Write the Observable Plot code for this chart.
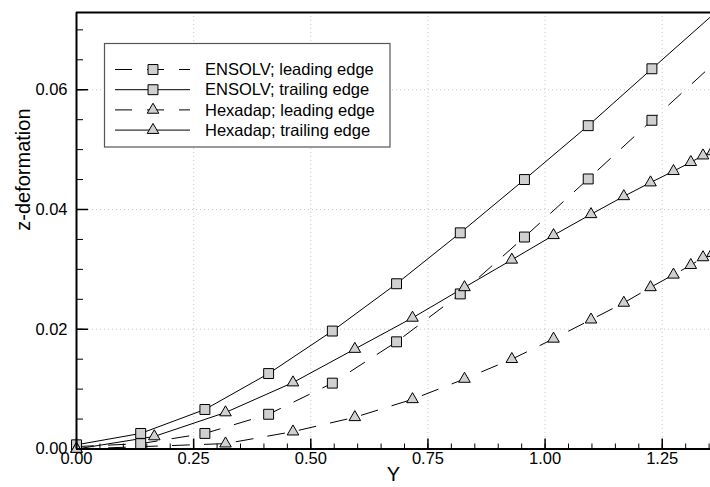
<!DOCTYPE html>
<html>
<head>
<meta charset="utf-8">
<script src="https://cdn.jsdelivr.net/npm/d3@7"></script>
<script src="https://cdn.jsdelivr.net/npm/@observablehq/plot@0.6"></script>
<style>
  html, body { margin: 0; padding: 0; background: white; }
  #chart { position: relative; width: 710px; height: 487px; overflow: hidden; }
</style>
</head>
<body>
<div id="chart"></div>
<script>
// ---- data ----
const SERIES = ["ENSOLV; leading edge", "ENSOLV; trailing edge", "Hexadap; leading edge", "Hexadap; trailing edge"];
const X_ENSOLV = [0, 0.137, 0.274, 0.410, 0.546, 0.683, 0.819, 0.956, 1.092, 1.228, 1.365];
const ENSOLV_LEADING  = [0.0004, 0.0009, 0.0026, 0.0058, 0.0110, 0.0179, 0.0259, 0.0354, 0.0451, 0.0549, 0.0647];
const ENSOLV_TRAILING = [0.0007, 0.0026, 0.0066, 0.0126, 0.0197, 0.0276, 0.0361, 0.0450, 0.0540, 0.0635, 0.0730];
const X_HEXADAP = [0, 0.166, 0.318, 0.462, 0.594, 0.717, 0.828, 0.929, 1.018, 1.098, 1.168, 1.225, 1.274, 1.311, 1.337, 1.357];
const HEXADAP_LEADING  = [0, null, 0.0009, 0.0029, 0.0053, 0.0083, 0.0117, 0.0150, 0.0184, 0.0216, 0.0244, 0.0270, 0.0291, 0.0307, 0.0320, 0.0327];
const HEXADAP_TRAILING = [0, 0.0021, 0.0061, 0.0111, 0.0167, 0.0219, 0.0270, 0.0316, 0.0357, 0.0392, 0.0422, 0.0445, 0.0464, 0.0479, 0.0490, 0.0497];
const X_TICKS = [0, 0.25, 0.5, 0.75, 1.0, 1.25];
const Y_TICKS = [0, 0.02, 0.04, 0.06];
const X_DOMAIN = [0, 1.353];
const Y_DOMAIN = [0, 0.0729];
const X_LABEL = "Y";
const Y_LABEL = "z-deformation";

// ---- build table ----
const specs = [
  {name: SERIES[0], xs: X_ENSOLV, zs: ENSOLV_LEADING, symbol: "square", dashed: true},
  {name: SERIES[1], xs: X_ENSOLV, zs: ENSOLV_TRAILING, symbol: "square", dashed: false},
  {name: SERIES[2], xs: X_HEXADAP, zs: HEXADAP_LEADING, symbol: "triangle", dashed: true},
  {name: SERIES[3], xs: X_HEXADAP, zs: HEXADAP_TRAILING, symbol: "triangle", dashed: false}
];
const rows = [];
for (const s of specs) {
  s.xs.forEach((x, i) => {
    if (s.zs[i] != null) rows.push({series: s.name, x, z: s.zs[i], symbol: s.symbol, dashed: s.dashed});
  });
}

const W = 710, H = 487;
const mL = 76, mR = 0, mT = 12, mB = 38.5;
const frameH = H - mT - mB, frameW = W - mL - mR;
const xMinor = d3.range(0, 1.351, 0.05);
const yMinor = d3.range(0, 0.0726, 0.005);
const DASH = "17,15";
const FILL = "#d0d0d0";
const rSquare = 5.6, rTri = 4.3;
const FONT = "'Liberation Sans', Arial, Helvetica, sans-serif";

const chart = Plot.plot({
  width: W, height: H,
  marginLeft: mL, marginRight: mR, marginTop: mT, marginBottom: mB,
  x: {domain: X_DOMAIN, axis: null},
  y: {domain: Y_DOMAIN, axis: null},
  style: {fontFamily: FONT, fontSize: "16.5px", background: "white", color: "black"},
  marks: [
    Plot.ruleX(X_TICKS.filter(d => d > 0), {stroke: "#c8c8c8", strokeDasharray: "1,3"}),
    Plot.ruleY(Y_TICKS.filter(d => d > 0), {stroke: "#c8c8c8", strokeDasharray: "1,3"}),
    Plot.line(rows.filter(d => !d.dashed), {x: "x", y: "z", z: "series", stroke: "black", strokeWidth: 1, clip: true}),
    Plot.line(rows.filter(d => d.dashed), {x: "x", y: "z", z: "series", stroke: "black", strokeWidth: 1, strokeDasharray: DASH, clip: true}),
    Plot.dot(rows.filter(d => d.symbol === "square"), {x: "x", y: "z", symbol: "square", r: rSquare, fill: FILL, stroke: "black", strokeWidth: 1}),
    Plot.dot(rows.filter(d => d.symbol === "triangle"), {x: "x", y: "z", symbol: "triangle", r: rTri, fill: FILL, stroke: "black", strokeWidth: 1}),
    // inward ticks
    Plot.tickX(xMinor, {x: d => d, insetTop: frameH - 5, stroke: "black", strokeWidth: 1}),
    Plot.tickX(X_TICKS, {x: d => d, insetTop: frameH - 10, stroke: "black", strokeWidth: 1.5}),
    Plot.tickY(yMinor, {y: d => d, insetRight: frameW - 7, stroke: "black", strokeWidth: 1}),
    Plot.tickY(Y_TICKS, {y: d => d, insetRight: frameW - 12, stroke: "black", strokeWidth: 1.5}),
    Plot.axisX({ticks: X_TICKS, tickSize: 0, tickPadding: 3, tickFormat: d3.format(".2f"), label: null}),
    Plot.axisY({ticks: Y_TICKS, tickSize: 0, tickPadding: 9, tickFormat: d3.format(".2f"), label: null}),
    // frame lines
    Plot.ruleX([X_DOMAIN[0]], {stroke: "black", strokeWidth: 2}),
    Plot.ruleY([Y_DOMAIN[0]], {stroke: "black", strokeWidth: 2}),
    Plot.ruleY([Y_DOMAIN[1]], {stroke: "black", strokeWidth: 2}),
    // axis titles
    Plot.text([X_LABEL], {frameAnchor: "bottom", dy: 32, text: d => d, fontSize: 20}),
    Plot.text([Y_LABEL], {frameAnchor: "left", dx: -53, rotate: -90, text: d => d, fontSize: 20})
  ]
});

// ---- legend ----
const svg = d3.select(chart);
const lg = svg.append("g").attr("text-anchor", "start");
lg.append("rect")
  .attr("x", 104.5).attr("y", 43.5).attr("width", 285.5).attr("height", 103.5)
  .attr("fill", "white").attr("stroke", "#555").attr("stroke-width", 1.2);
specs.forEach((s, i) => {
  const y = 69.5 + i * 20.2;
  lg.append("line").attr("x1", 115).attr("x2", 190).attr("y1", y).attr("y2", y)
    .attr("stroke", "black").attr("stroke-width", 1)
    .attr("stroke-dasharray", s.dashed ? DASH : null);
  const r = s.symbol === "square" ? rSquare : rTri;
  const sym = d3.symbol().type(s.symbol === "square" ? d3.symbolSquare : d3.symbolTriangle).size(r * r * Math.PI);
  lg.append("path").attr("d", sym()).attr("transform", `translate(153,${y})`)
    .attr("fill", FILL).attr("stroke", "black").attr("stroke-width", 1);
  lg.append("text").attr("x", 205).attr("y", y).attr("dy", "0.35em")
    .attr("text-anchor", "start").attr("font-family", FONT)
    .attr("font-size", 16.5).attr("fill", "black").text(s.name);
});

document.getElementById("chart").appendChild(chart);
</script>
</body>
</html>
